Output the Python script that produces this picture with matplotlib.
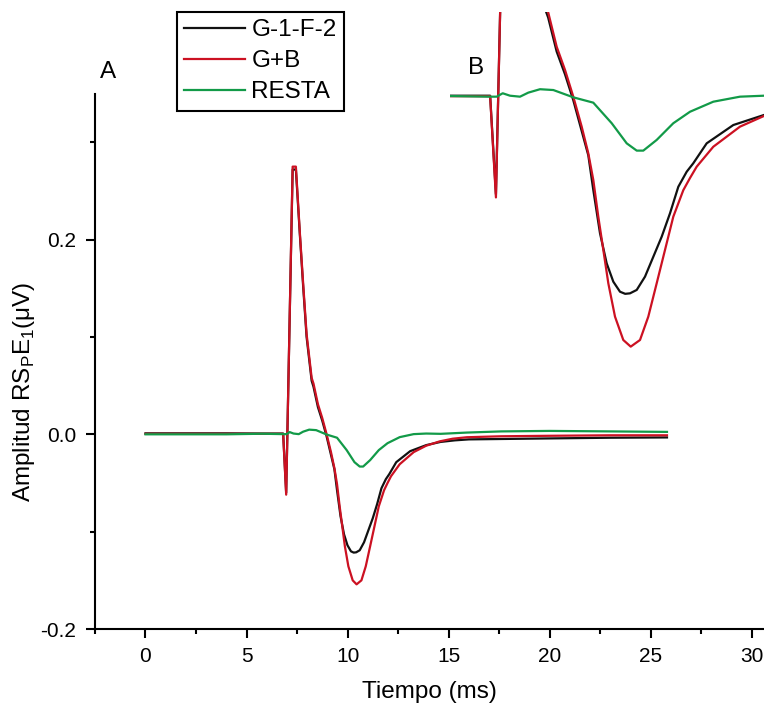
import matplotlib
matplotlib.use("Agg")
import matplotlib.pyplot as plt
from matplotlib.ticker import MultipleLocator

plt.rcParams["font.family"] = ["Liberation Sans", "DejaVu Sans"]
plt.rcParams["mathtext.fontset"] = "custom"
plt.rcParams["mathtext.rm"] = "Liberation Sans"
plt.rcParams["axes.unicode_minus"] = False

# --- Data (time in ms, amplitude in uV) ----------------------------------
t_gf = [0, 2, 4, 5.77, 6.81, 6.96, 7.28, 7.44, 7.64, 7.80, 7.97, 8.22, 8.31,
        8.53, 8.745, 8.959, 9.176, 9.347, 9.476, 9.649, 9.822, 9.993, 10.166,
        10.30, 10.424, 10.598, 10.812, 11.027, 11.244, 11.458, 11.673, 11.89,
        12.06, 12.406, 13.094, 13.887, 14.6, 15.3, 16.0, 17.6, 20.0, 23.0, 25.8]
v_gf = [0.001, 0.001, 0.001, 0.0008, 0.0008, -0.060, 0.272, 0.272, 0.204,
        0.152, 0.100, 0.055, 0.049, 0.028, 0.014, -0.002, -0.021, -0.036,
        -0.0574, -0.0841, -0.1027, -0.114, -0.1202, -0.1215, -0.1212, -0.1191,
        -0.1109, -0.0986, -0.0862, -0.0718, -0.0554, -0.0461, -0.0409, -0.0286,
        -0.0173, -0.0111, -0.0078, -0.0062, -0.0052, -0.0048, -0.0042, -0.0035,
        -0.0032]

t_gb = [0, 2, 4, 5.77, 6.81, 6.96, 7.28, 7.44, 7.64, 7.80, 7.97, 8.22, 8.313,
        8.53, 8.745, 8.959, 9.176, 9.347, 9.476, 9.605, 9.735, 9.864, 10.037,
        10.251, 10.443, 10.683, 10.897, 11.114, 11.329, 11.543, 11.802, 11.975,
        12.148, 12.577, 13.267, 13.887, 14.56, 15.2, 15.9, 17.6, 20.0, 23.0, 25.8]
v_gb = [0.0005, 0.0005, 0.0005, 0.0005, 0.0005, -0.062, 0.275, 0.275, 0.206,
        0.155, 0.103, 0.058, 0.052, 0.031, 0.0167, 0.0002, -0.0183, -0.0348,
        -0.0512, -0.0739, -0.0944, -0.115, -0.1356, -0.150, -0.1541, -0.150,
        -0.1356, -0.115, -0.0944, -0.0739, -0.0575, -0.0500, -0.043, -0.0307,
        -0.0183, -0.0117, -0.0072, -0.0045, -0.003, -0.002, -0.0015, -0.001,
        -0.001]

t_resta = [0, 2, 4, 5.773, 6.807, 6.98, 7.135, 7.324, 7.582, 7.797, 8.099,
           8.443, 8.959, 9.476, 9.952, 10.339, 10.598, 10.768, 11.114, 11.543,
           11.975, 12.577, 13.267, 13.887, 14.6, 15.9, 17.6, 20.0, 23.0, 25.8]
v_resta = [0.0, 0.0, 0.0, 0.0006, 0.0002, 0.0002, 0.0023, 0.0008, 0.0002,
           0.0027, 0.0048, 0.0043, -0.0002, -0.0035, -0.0162, -0.0286, -0.0331,
           -0.0331, -0.0265, -0.0162, -0.0091, -0.0029, 0.0002, 0.0008, 0.0005,
           0.0018, 0.003, 0.0035, 0.003, 0.0025]

series = [
    ("G-1-F-2", t_gf, v_gf, "#111111"),
    ("G+B", t_gb, v_gb, "#cc1122"),
    ("RESTA", t_resta, v_resta, "#129a48"),
]

# --- Figure ----------------------------------------------------------------
fig = plt.figure(figsize=(7.64, 7.07), dpi=100)
ax = fig.add_axes([0.1243, 0.1103, 0.8757, 0.7573])

for name, t, v, c in series:
    ax.plot(t, v, color=c, lw=1.6, label=name)

ax.set_xlim(-2.5, 30.6)
ax.set_ylim(-0.2, 0.35)
ax.xaxis.set_major_locator(MultipleLocator(5))
ax.xaxis.set_minor_locator(MultipleLocator(2.5))
ax.yaxis.set_major_locator(MultipleLocator(0.2))
ax.yaxis.set_minor_locator(MultipleLocator(0.1))
ax.yaxis.set_major_formatter(lambda y, _: f"{y:.1f}")

for side in ("top", "right"):
    ax.spines[side].set_visible(False)
for side in ("left", "bottom"):
    ax.spines[side].set_linewidth(1.5)

ax.tick_params(which="major", length=6.5, width=1.5, labelsize=15)
ax.tick_params(which="minor", length=3.3, width=1.5)
ax.tick_params(axis="x", which="major", pad=6.5)
ax.tick_params(axis="y", which="major", pad=7)

ax.set_xlabel("Tiempo (ms)", fontsize=17.5, labelpad=11)
ax.set_ylabel("Amplitud RS$_\\mathregular{P}$E$_\\mathregular{1}$(μV)", fontsize=17.5)
ax.yaxis.set_label_coords(-0.087, 0.443)

leg = ax.legend(loc="upper left", bbox_to_anchor=(176.7 / 764, 1 - 11.7 / 707),
                bbox_transform=fig.transFigure, frameon=True, fancybox=False,
                edgecolor="black", framealpha=1, fontsize=17.5, handlelength=2.5,
                handletextpad=0.25, labelspacing=0.36, borderpad=0.32,
                borderaxespad=0)
leg.get_frame().set_linewidth(1.5)

fig.text(108 / 764, 1 - 72 / 707, "A", ha="center", va="center", fontsize=17.5)
fig.text(476 / 764, 1 - 67.5 / 707, "B", ha="center", va="center", fontsize=17.5)

# --- Inset B: same traces, zoomed ----------------------------------------
axin = fig.add_axes([450 / 764, (707 - 360) / 707, 314 / 764, 348 / 707])
for name, t, v, c in series:
    axin.plot(t, v, color=c, lw=1.6)
axin.set_xlim(5.773, 13.887)
axin.set_ylim(-0.16235, 0.05247)
axin.axis("off")

fig.savefig("out.png", dpi=100)
